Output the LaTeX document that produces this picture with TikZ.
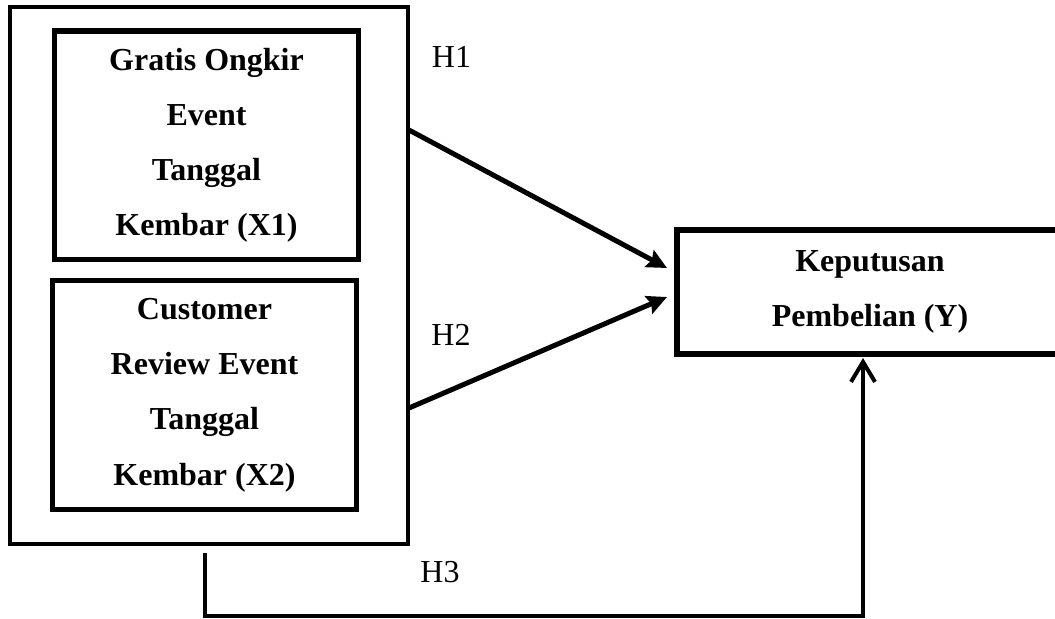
\documentclass[tikz,border=0pt]{standalone}
\usepackage{fontspec}
\setmainfont{Liberation Serif}
\usetikzlibrary{arrows.meta,calc}
\begin{document}
\begin{tikzpicture}[x=0.5pt,y=-0.5pt,
  boxbase/.style={draw=black, rectangle, inner sep=0pt, outer sep=0pt, align=center,
    font=\bfseries\fontsize{16}{27.65}\selectfont},
  outerbox/.style={draw=black, rectangle, line width=2pt, inner sep=0pt, outer sep=0pt},
  varbox/.style={boxbase, line width=2.8pt},
  hlabel/.style={font=\fontsize{16}{19}\selectfont, inner sep=0pt, anchor=base},
  mainarrow/.style={line width=2.5pt, -{Stealth[length=10pt,width=9.5pt,inset=1.5pt]}},
  h3arrow/.style={line width=2pt, -{Straight Barb[length=10pt,width=12pt,line width=2pt]}}
]
\path[use as bounding box] (0,0) rectangle (1055,618);
\begin{scope}
\clip (0,0) rectangle (1055,618);

\node[outerbox, minimum width=199.25pt, minimum height=268.5pt] (outer) at (208.75,275.5) {};
\node[varbox, minimum width=152pt, minimum height=114.25pt] (x1) at (206.5,145.25)
  {Gratis Ongkir\\Event\\Tanggal\\Kembar (X1)};
\node[varbox, minimum width=152pt, minimum height=114.5pt] (x2) at (204.5,395)
  {Customer\\Review Event\\Tanggal\\Kembar (X2)};
\node[varbox, minimum width=193pt, minimum height=62pt] (y) at (870,292)
  {Keputusan\\Pembelian (Y)};

\coordinate (a1s) at ($(outer.east)+(1,-145.5)$);
\coordinate (a1e) at ($(y.west)+(-10,-24)$);
\coordinate (a2s) at ($(outer.east)+(1,132.5)$);
\coordinate (a2e) at ($(y.west)+(-10,5)$);
\draw[mainarrow] (a1s) -- (a1e);
\draw[mainarrow] (a2s) -- (a2e);

\coordinate (h3s) at ($(outer.south)+(-3.75,9)$);
\coordinate (h3e) at ($(y.south)+(-7,4)$);
\draw[h3arrow] (h3s) -- ++(0,62.5) -| (h3e);

\node[hlabel] (h1) at (451.5,67) {H1};
\node[hlabel] (h2) at (451,345) {H2};
\node[hlabel] (h3) at (440,582) {H3};
\end{scope}
\end{tikzpicture}
\end{document}
